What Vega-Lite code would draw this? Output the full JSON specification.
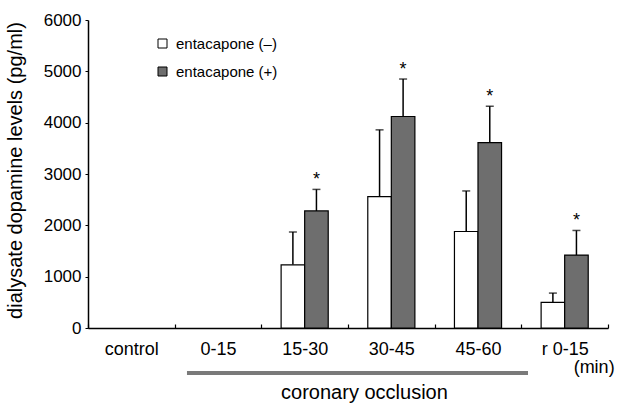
{
  "$schema": "https://vega.github.io/schema/vega-lite/v6.json",
  "width": 520,
  "height": 308,
  "autosize": "none",
  "padding": {"left": 88, "top": 20, "right": 14, "bottom": 77},
  "background": "white",
  "config": {
    "font": "Liberation Sans",
    "view": {"stroke": null},
    "axis": {"labelColor": "black", "titleColor": "black", "domainColor": "black", "tickColor": "black", "grid": false}
  },
  "layer": [
    {
      "data": {
        "values": [
          {"period": "15-30", "group": "entacapone (–)", "value": 1230, "err": 1870, "star": ""},
          {"period": "15-30", "group": "entacapone (+)", "value": 2280, "err": 2700, "star": "*"},
          {"period": "30-45", "group": "entacapone (–)", "value": 2560, "err": 3860, "star": ""},
          {"period": "30-45", "group": "entacapone (+)", "value": 4120, "err": 4850, "star": "*"},
          {"period": "45-60", "group": "entacapone (–)", "value": 1880, "err": 2670, "star": ""},
          {"period": "45-60", "group": "entacapone (+)", "value": 3610, "err": 4320, "star": "*"},
          {"period": "r 0-15", "group": "entacapone (–)", "value": 500, "err": 680, "star": ""},
          {"period": "r 0-15", "group": "entacapone (+)", "value": 1420, "err": 1900, "star": "*"}
        ]
      },
      "encoding": {
        "x": {
          "field": "period", "type": "nominal",
          "scale": {"domain": ["control", "0-15", "15-30", "30-45", "45-60", "r 0-15"], "paddingInner": 0, "paddingOuter": 0},
          "axis": {"title": null, "labelAngle": 0, "labelFontSize": 18, "labelPadding": 16, "tickBand": "extent", "tickSize": -4, "domainWidth": 1.5, "tickWidth": 1.2}
        },
        "xOffset": {
          "field": "group", "type": "nominal",
          "scale": {"domain": ["entacapone (–)", "entacapone (+)"], "paddingInner": 0, "paddingOuter": 0.84}
        },
        "y": {
          "field": "value", "type": "quantitative",
          "scale": {"domain": [0, 6000], "nice": false},
          "axis": {"title": "dialysate dopamine levels (pg/ml)", "format": "d", "titleFontSize": 20, "titleFontWeight": "normal", "titleX": -73, "titleY": 150, "titleAngle": 270, "titleAlign": "center", "titleBaseline": "middle", "values": [0, 1000, 2000, 3000, 4000, 5000, 6000], "labelFontSize": 17, "tickSize": 3, "labelPadding": 4, "domainWidth": 1.5}
        }
      },
      "layer": [
        {
          "mark": {"type": "rule", "strokeWidth": 1.5, "color": "black"},
          "encoding": {"y": {"field": "value", "type": "quantitative"}, "y2": {"field": "err"}}
        },
        {
          "mark": {"type": "tick", "orient": "horizontal", "size": 8, "thickness": 1.5, "color": "black"},
          "encoding": {"y": {"field": "err", "type": "quantitative"}}
        },
        {
          "mark": {"type": "bar", "stroke": "black", "strokeWidth": 1.2},
          "encoding": {
            "fill": {
              "field": "group", "type": "nominal",
              "scale": {"domain": ["entacapone (–)", "entacapone (+)"], "range": ["white", "#6e6e6e"]},
              "legend": {"title": null, "orient": "none", "legendX": 67, "legendY": 16, "symbolType": "square", "symbolSize": 81, "symbolStrokeColor": "black", "symbolStrokeWidth": 1, "labelFontSize": 15, "labelColor": "black", "labelOffset": 6, "rowPadding": 12}
            }
          }
        },
        {
          "mark": {"type": "text", "fontSize": 18, "baseline": "alphabetic", "dy": -4, "color": "black"},
          "encoding": {"y": {"field": "err", "type": "quantitative"}, "text": {"field": "star"}}
        }
      ]
    },
    {
      "data": {"values": [{"x0": 1.142, "x1": 5.077, "y": -877}]},
      "mark": {"type": "rule", "strokeWidth": 4, "color": "#7a7a7a"},
      "encoding": {
        "x": {"field": "x0", "type": "quantitative", "scale": {"domain": [0, 6], "nice": false, "zero": false}, "axis": null},
        "x2": {"field": "x1"},
        "y": {"field": "y", "type": "quantitative", "axis": null}
      }
    },
    {
      "data": {"values": [{"x": 3.19, "y": -1266, "label": "coronary occlusion", "size": 20}, {"x": 5.84, "y": -779, "label": "(min)", "size": 18}]},
      "mark": {"type": "text", "baseline": "middle", "align": "center", "color": "black"},
      "encoding": {
        "x": {"field": "x", "type": "quantitative", "scale": {"domain": [0, 6], "nice": false, "zero": false}, "axis": null},
        "y": {"field": "y", "type": "quantitative", "axis": null},
        "text": {"field": "label"},
        "size": {"field": "size", "type": "quantitative", "scale": null, "legend": null}
      }
    }
  ],
  "resolve": {"scale": {"x": "independent"}, "axis": {"y": "independent"}}
}
